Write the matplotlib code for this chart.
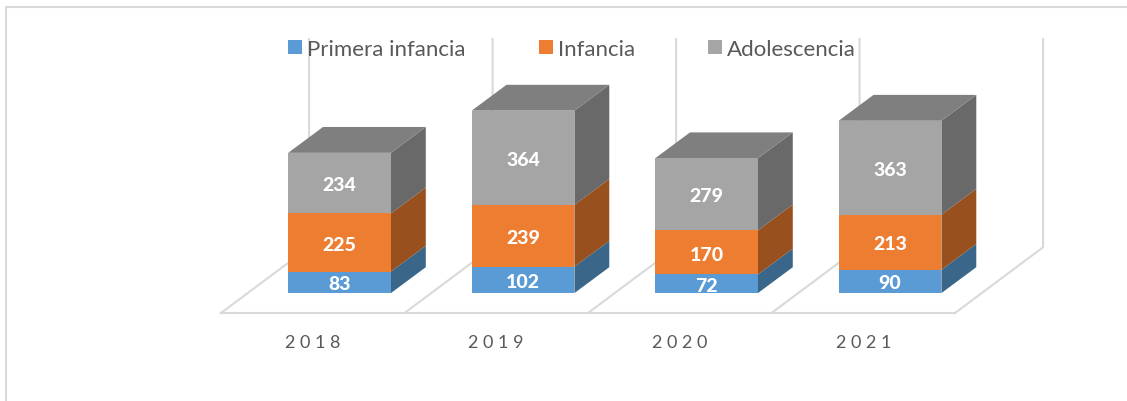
import numpy as np
from matplotlib import pyplot as plt
from matplotlib.lines import Line2D

years = ['2018', '2019', '2020', '2021']
primera_infancia = [83, 102, 72, 90]
infancia = [225, 239, 170, 213]
adolescencia = [234, 364, 279, 363]

series_names = ['Primera infancia', 'Infancia', 'Adolescencia']
front_colors = ['#5b9bd5', '#ed7d31', '#a5a5a5']
side_colors = ['#3a6689', '#98501e', '#696969']
top_color = '#7f7f7f'
grid_color = '#d9d9d9'
text_color = '#595959'

# depth of the fake 3D look, in data units
bar_shift = 0.146
bar_width = 0.56
bar_dx = 0.19
bar_dy = 100
floor_dx = 0.48
floor_dy = 254
y_min = -77
y_max = 982

plt.rcParams['font.family'] = ['Lato', 'DejaVu Sans']

fig = plt.figure(figsize=(11.27, 4.02), dpi=100)
ax = fig.add_axes([221 / 1127, (402 - 314) / 402, 734 / 1127, 274 / 402])
ax.set_xlim(-0.5, 3.5)
ax.set_ylim(y_min, y_max)
ax.patch.set_alpha(0)

for side in ['top', 'left', 'right']:
    ax.spines[side].set_visible(False)
ax.spines['bottom'].set_color(grid_color)
ax.spines['bottom'].set_linewidth(1.5)

ax.set_yticks([])
ax.set_xticks(np.arange(len(years)))
ax.set_xticklabels([' '.join(y) for y in years], color=text_color, fontsize=13)
ax.tick_params(axis='x', length=0, pad=15)

# floor diagonals and back wall lines
for i in range(len(years) + 1):
    ax.plot([i - 0.5, i - 0.5 + floor_dx, i - 0.5 + floor_dx], [y_min, y_min + floor_dy, y_max],
            color=grid_color, lw=1.5, clip_on=False, zorder=1)

x = np.arange(len(years)) + bar_shift
bottom = np.zeros(len(years))
handles = []
for values, name, front, dark in zip([primera_infancia, infancia, adolescencia], series_names,
                                     front_colors, side_colors):
    values = np.array(values)
    top = bottom + values
    bars = ax.bar(x, values, bar_width, bottom=bottom, color=front, label=name, zorder=3)
    handles.append(bars)
    for xc, b, t, v in zip(x, bottom, top, values):
        right = xc + bar_width / 2
        ax.fill([right, right + bar_dx, right + bar_dx, right],
                [b, b + bar_dy, t + bar_dy, t], color=dark, lw=0, zorder=2, clip_on=False)
        ax.text(xc, (b + t) / 2 - 6, str(v), color='white', fontsize=14, fontweight='black',
                ha='center', va='center', zorder=4)
    bottom = top

# top faces of the stacks
for xc, t in zip(x, bottom):
    left = xc - bar_width / 2
    right = xc + bar_width / 2
    ax.fill([left, right, right + bar_dx, left + bar_dx],
            [t, t, t + bar_dy, t + bar_dy], color=top_color, lw=0, zorder=2, clip_on=False)

legend = fig.legend(handles=handles, labels=series_names, ncol=3, frameon=False,
                    loc='upper left', bbox_to_anchor=(288 / 1127, 1 - 40 / 402),
                    fontsize=16, labelcolor=text_color, borderpad=0, borderaxespad=0,
                    handlelength=0.63, handleheight=0.63, handletextpad=0.24, columnspacing=3.27)

# chart frame, only top and left edges are in the crop
fig.add_artist(Line2D([6 / 1127, 6 / 1127, 1], [0, 1 - 8 / 402, 1 - 8 / 402], color=grid_color, lw=1.5))

plt.savefig('out.png', dpi=100)
